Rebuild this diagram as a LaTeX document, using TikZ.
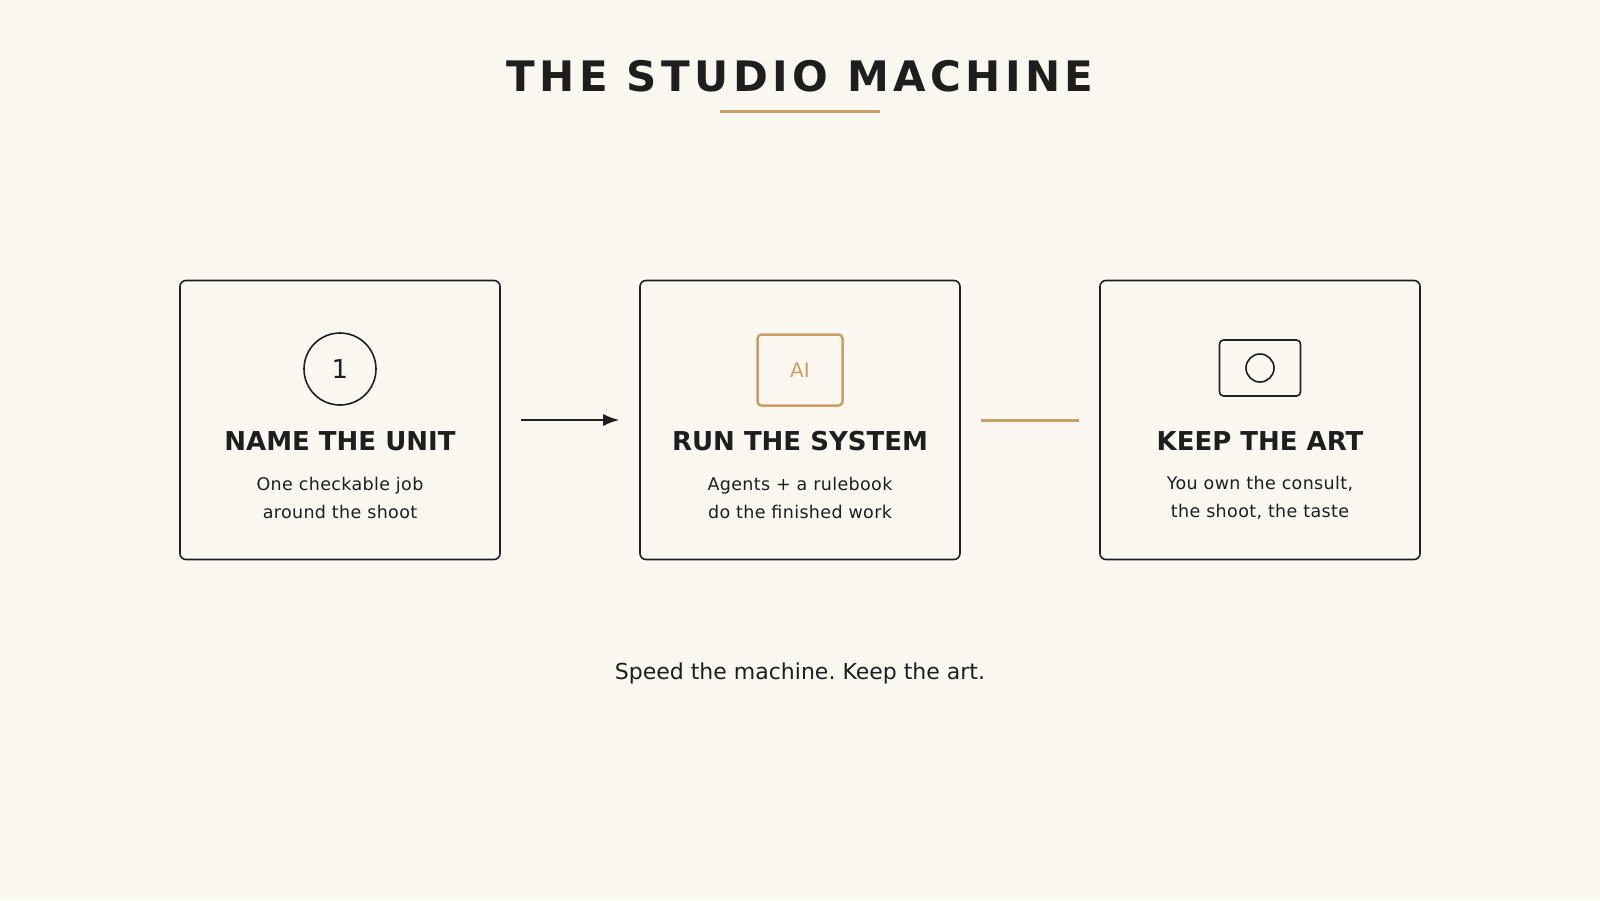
\documentclass[tikz,border=0pt]{standalone}
\usepackage{fontspec}
\setmainfont{DejaVu Sans}
\usetikzlibrary{arrows.meta}
\definecolor{bg}{HTML}{F9F7F0}
\definecolor{ink}{HTML}{1E1E1E}
\definecolor{gold}{HTML}{C8A064}
\frenchspacing
\begin{document}
\begin{tikzpicture}[x=1pt,y=-1pt,
  card/.style={draw=ink,line width=1.6pt,rounded corners=6pt,minimum width=320pt,minimum height=279pt},
  head/.style={text=ink,font=\fontsize{26}{30}\selectfont\bfseries},
  sub/.style={text=ink,align=center,font=\fontsize{17.5}{27.5}\selectfont\addfontfeatures{LetterSpace=2}}]
\fill[bg] (0,0) rectangle (1600,900);
\useasboundingbox (0,0) rectangle (1600,900);
\node[text=ink,font=\fontsize{42}{50}\selectfont\bfseries\addfontfeatures{LetterSpace=10.5}] (title) at (800,76) {THE STUDIO MACHINE};
\coordinate (u1) at (720,111); \coordinate (u2) at (880,111);
\draw[gold,line width=3pt] (u1) -- (u2);
\node[card] (c1) at (340,420) {};
\node[card] (c2) at (800,420) {};
\node[card] (c3) at (1260,420) {};
\node[circle,draw=ink,line width=1.6pt,minimum size=72pt,inner sep=0pt,font=\fontsize{26}{30}\selectfont,text=ink] (i1) at (340,369) {1};
\node[draw=gold,line width=2.5pt,rounded corners=4pt,minimum width=85pt,minimum height=71pt,text=gold,font=\fontsize{20}{24}\selectfont] (i2) at (800,370) {AI};
\node[draw=ink,line width=1.6pt,rounded corners=4pt,minimum width=81pt,minimum height=56pt] (i3) at (1260,368) {};
\node[circle,draw=ink,line width=1.6pt,minimum size=28pt,inner sep=0pt] (i3c) at (1260,368) {};
\node[head] (h1) at (340,441) {NAME THE UNIT};
\node[head] (h2) at (800,441) {RUN THE SYSTEM};
\node[head] (h3) at (1260,441) {KEEP THE ART};
\node[sub] (s1) at (340,498) {One checkable job\\around the shoot};
\node[sub] (s2) at (800,498) {Agents + a rulebook\\do the finished work};
\node[sub] (s3) at (1260,498) {You own the consult,\\the shoot, the taste};
\draw[ink,line width=1.6pt,-{Latex[length=16pt,width=12pt]},shorten <=20pt,shorten >=20pt] (c1.east) -- (c2.west);
\draw[gold,line width=3pt,shorten <=20pt,shorten >=20pt] (c2.east) -- (c3.west);
\node[text=ink,font=\fontsize{22}{26}\selectfont] (foot) at (800,673) {Speed the machine. Keep the art.};
\end{tikzpicture}
\end{document}
